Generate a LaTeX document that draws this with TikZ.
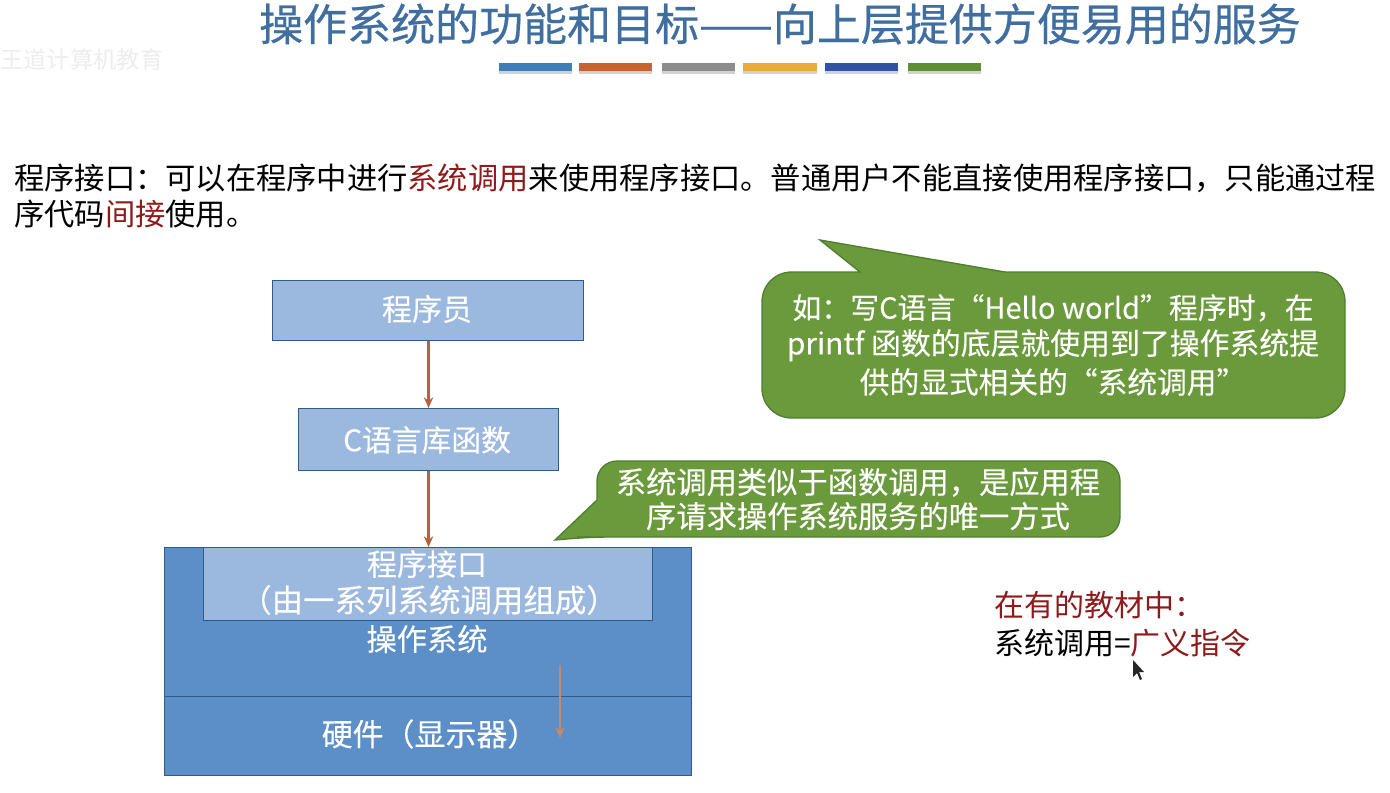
\documentclass[tikz,border=0pt]{standalone}
\usepackage{fontspec}
\usetikzlibrary{arrows.meta}
\setmainfont{Noto Sans CJK SC}
\newfontfamily\heavyfont[FakeBold=0.5]{Noto Sans CJK SC}
\newfontfamily\semifont[FakeBold=0.2]{Noto Sans CJK SC}
\definecolor{titleblue}{HTML}{3F6E9F}
\definecolor{darkred}{HTML}{8E1B1B}
\definecolor{lightbox}{HTML}{9BB9DF}
\definecolor{midbox}{HTML}{5C8FC7}
\definecolor{boxline}{HTML}{2F5A8C}
\definecolor{arrowc}{HTML}{B5623A}
\definecolor{green1}{HTML}{6A9A3C}
\definecolor{green2}{HTML}{4F7F2E}
\newcommand{\fs}[1]{\fontsize{#1pt}{#1pt}\selectfont}
\tikzset{
  x=0.75pt,y=-0.75pt,
  lightnode/.style={draw=boxline,line width=0.8pt,fill=lightbox,text=white,inner sep=0pt,align=center,anchor=north west},
  midnode/.style={draw=boxline,line width=0.8pt,fill=midbox,inner sep=0pt,anchor=north west},
  whitetext/.style={text=white,inner sep=0pt,align=center,font=\semifont},
  blacktext/.style={text=black,inner sep=0pt,anchor=west},
  flow/.style={draw=arrowc,line width=2pt,-{Stealth[length=8pt,width=7pt]}},
  callout/.style={fill=green1,draw=green2,line width=1pt},
}
\begin{document}
\begin{tikzpicture}
\useasboundingbox (0,0) rectangle (1390,793);
% watermark
\node[text=black!7,inner sep=0pt,anchor=west] (wm) at (0,60) {\fs{17.5}王道计算机教育};
% title
\node[text=titleblue,inner sep=0pt] (title) at (780,24) {\heavyfont\fs{33}操作系统的功能和目标——向上层提供方便易用的服务};
% bars
\foreach \a/\b/\c in {499/572/3F7CBA,579/652/C9622E,662/735/8C8C8C,743/817/E8AE34,825/898/2F52A6,908/981/5F8F35}{
  \definecolor{barc}{HTML}{\c}
  \fill[black!18] (\a,66) rectangle (\b,74);
  \fill[barc] (\a,63) rectangle (\b,71);
}
% paragraph
\node[blacktext] (p1) at (14,178) {\fs{22.7}程序接口：可以在程序中进行\textcolor{darkred}{系统调用}来使用程序接口。普通用户不能直接使用程序接口，只能通过程};
\node[blacktext] (p2) at (14,214) {\fs{22.7}序代码\textcolor{darkred}{间接}使用。};
% boxes
\node[lightnode,minimum width=233.25pt,minimum height=45pt] (prog) at (272,280) {};
\node[whitetext] (progt) at (427,309) {\fs{22.5}程序员};
\node[lightnode,minimum width=195pt,minimum height=46.5pt] (lib) at (298,408) {};
\node[whitetext] (libt) at (427,440) {\fs{22.3}C语言库函数};
\node[midnode,minimum width=395.25pt,minimum height=111.75pt] (os) at (164,547) {};
\node[midnode,minimum width=395.25pt,minimum height=59.25pt] (hw) at (164,696) {};
\node[lightnode,minimum width=336.75pt,minimum height=54.75pt] (api) at (203,547) {};
\node[whitetext] (apit1) at (427,564) {\fs{22.5}程序接口};
\node[whitetext] (apit2) at (429,600) {\fs{23.6}（由一系列系统调用组成）};
\node[whitetext] (ost) at (427,639) {\fs{22.7}操作系统};
\node[whitetext] (hwt) at (430,734) {\fs{23.2}硬件（显示器）};
% connectors
\draw[flow] (prog.south -| lib.north) -- (lib.north);
\draw[flow] (lib.south) -- (os.north -| lib.south);
\coordinate (a0) at (560,665);
\coordinate (a1) at (560,738);
\draw[flow,draw=arrowc!75!white] (a0) -- (a1);
% callouts
\path[callout] (1005,272) -- (1315,272) .. controls (1332,272) and (1345,285) .. (1345,302) -- (1345,388) .. controls (1345,405) and (1332,418) .. (1315,418) -- (792,418) .. controls (775,418) and (762,405) .. (762,388) -- (762,302) .. controls (762,285) and (775,272) .. (792,272) -- (860,272) -- (820,240) -- cycle;
\node[whitetext] (c1) at (1053,345) {\fs{21.7}如：写C语言“Hello world”程序时，在\\[4.6pt]\fs{22.4}printf 函数的底层就使用到了操作系统提\\[4.2pt]\fs{22.3}供的显式相关的“系统调用”};
\path[callout,rounded corners=15pt] (597,500) -- (597,461) -- (1120,461) -- (1120,537) -- (597,537) -- (590,537) [sharp corners] -- (555,540) -- cycle;
\node[whitetext] (c2) at (858,499) {\fs{22.7}系统调用类似于函数调用，是应用程\\[3pt]\fs{22.7}序请求操作系统服务的唯一方式};
% right note
\node[blacktext,text=darkred] (n1) at (994,605) {\fs{22.5}在有的教材中：};
\node[blacktext] (n2) at (994,643) {\fs{22.5}系统调用=\textcolor{darkred}{广义指令}};
% cursor
\fill[black!85] (1133,660) -- (1133,677) -- (1137,673) -- (1140,680) -- (1142,679) -- (1139,672) -- (1144,672) -- cycle;
\end{tikzpicture}
\end{document}
